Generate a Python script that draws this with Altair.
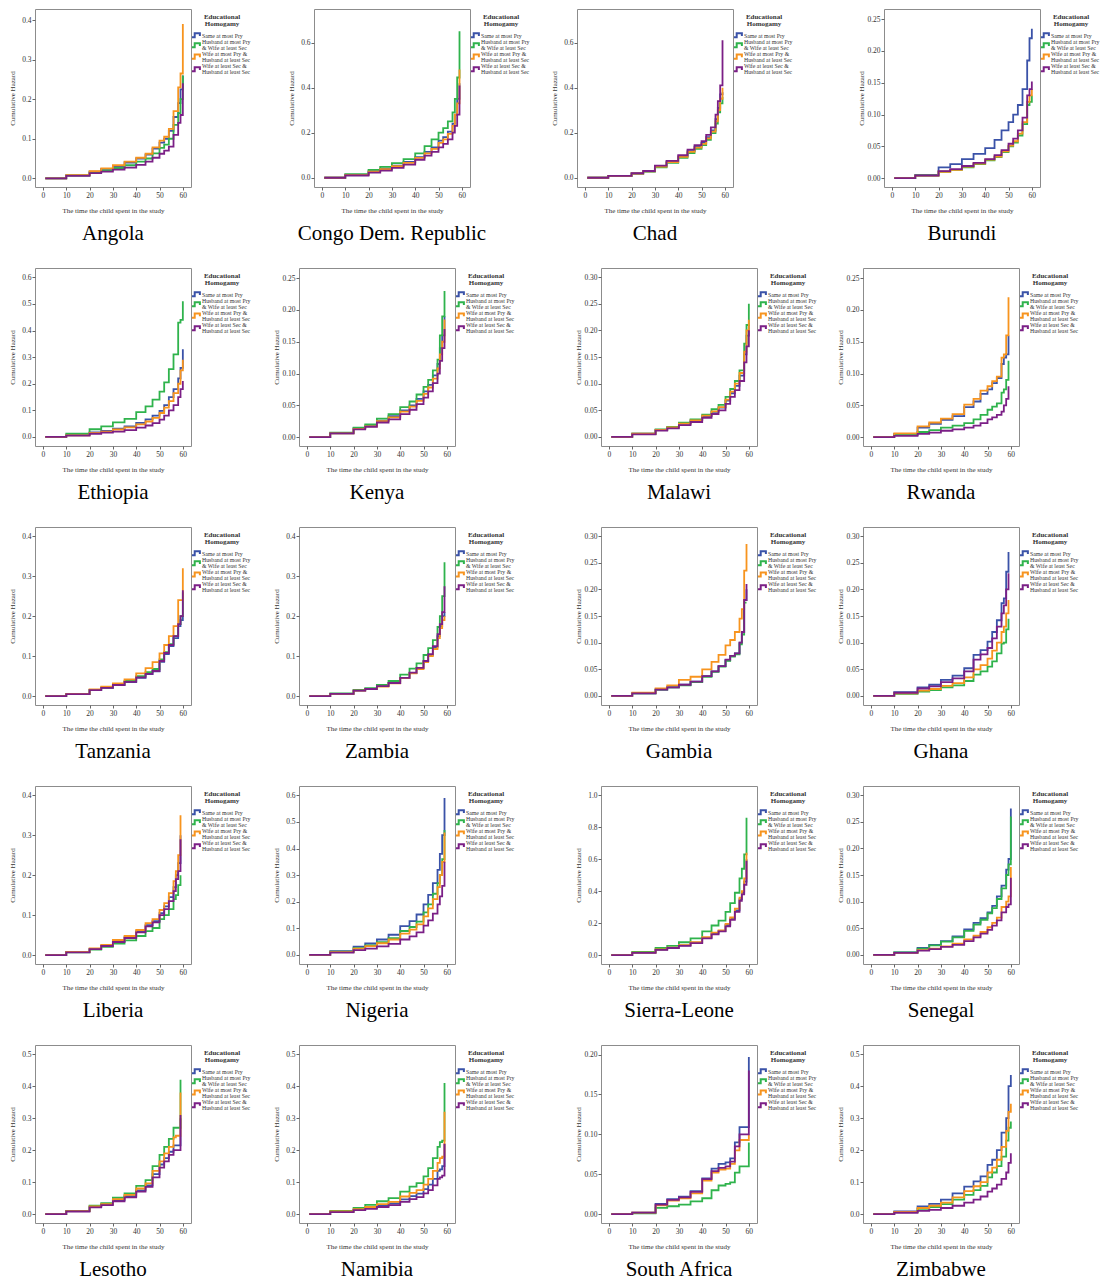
import altair as alt
import pandas as pd

SERIF = "Liberation Serif"

SERIES = [
    "Same at most Pry",
    "Husband at most Pry|& Wife at least Sec",
    "Wife at most Pry &|Husband at least Sec",
    "Wife at least Sec &|Husband at least Sec",
]
COLORS = ["#3a52a8", "#2fb34c", "#f7941e", "#7b1f86"]
LEGEND_TITLE = "Educational|Homogamy"

COUNTRIES = ["Angola", "Congo Dem. Republic", "Chad", "Burundi",
             "Ethiopia", "Kenya", "Malawi", "Rwanda",
             "Tanzania", "Zambia", "Gambia", "Ghana",
             "Liberia", "Nigeria", "Sierra-Leone", "Senegal",
             "Lesotho", "Namibia", "South Africa", "Zimbabwe"]
END_MONTH = [60, 59, 59, 60, 60, 59, 60, 59, 60, 59, 59, 59, 59, 59, 59, 60, 59, 59, 60, 60]
Y_TICK_MAX = [0.4, 0.6, 0.6, 0.25, 0.6, 0.25, 0.30, 0.25, 0.4, 0.4, 0.30, 0.30,
              0.4, 0.6, 1.0, 0.30, 0.5, 0.5, 0.20, 0.5]
Y_TICK_STEP = [0.1, 0.2, 0.2, 0.05, 0.1, 0.05, 0.05, 0.05, 0.1, 0.1, 0.05, 0.05,
               0.1, 0.1, 0.2, 0.05, 0.1, 0.1, 0.05, 0.1]
Y_TOP = [0.428, 0.749, 0.749, 0.266, 0.635, 0.266, 0.317, 0.266, 0.423, 0.423, 0.317, 0.317,
         0.423, 0.635, 1.058, 0.317, 0.529, 0.529, 0.212, 0.529]
Y_BOTTOM = [-0.022, -0.041, -0.041, -0.014, -0.034, -0.014, -0.017, -0.014, -0.022, -0.022,
            -0.017, -0.017, -0.022, -0.034, -0.056, -0.017, -0.028, -0.028, -0.011, -0.028]

# months of observation: fixed early grid, then the last three months of each country
BASE_MONTHS = [1, 10, 20, 25, 30, 35, 40, 44, 47, 50, 52, 54, 56]

# cumulative hazard per series: (Same at most Pry, Husband Pry & Wife Sec, Wife Pry & Husband Sec, both Sec)
ANGOLA = [
    [0, .008, .017, .024, .031, .04, .05, .06, .075, .09, .1, .12, .155, .19, .225, .26],
    [0, .007, .015, .02, .026, .033, .042, .05, .063, .077, .085, .1, .135, .165, .2, .26],
    [0, .008, .018, .025, .033, .042, .052, .062, .078, .095, .105, .125, .17, .23, .265, .39],
    [0, .006, .013, .017, .022, .027, .034, .042, .052, .062, .07, .08, .11, .14, .16, .24],
]
CONGO = [
    [0, .013, .029, .04, .054, .07, .092, .115, .135, .165, .18, .205, .24, .28, .35, .42],
    [0, .016, .035, .048, .065, .083, .108, .14, .17, .2, .22, .25, .29, .35, .445, .65],
    [0, .012, .027, .038, .051, .066, .088, .108, .128, .155, .17, .195, .23, .28, .33, .48],
    [0, .01, .023, .032, .044, .058, .08, .098, .115, .135, .15, .17, .2, .23, .28, .41],
]
CHAD = [
    [0, .008, .019, .029, .05, .071, .095, .118, .138, .155, .18, .21, .26, .31, .37, .38],
    [0, .008, .018, .027, .046, .066, .088, .11, .128, .145, .168, .198, .24, .29, .33, .36],
    [0, .008, .019, .028, .049, .069, .093, .115, .134, .15, .175, .205, .25, .3, .35, .40],
    [0, .008, .02, .03, .054, .075, .1, .125, .145, .163, .19, .224, .28, .34, .41, .61],
]
BURUNDI = [
    [0, .005, .017, .022, .03, .038, .047, .06, .075, .088, .1, .115, .14, .185, .22, .235],
    [0, .004, .01, .013, .017, .022, .028, .033, .041, .05, .056, .067, .085, .115, .12, .13],
    [0, .004, .01, .013, .018, .023, .029, .034, .042, .051, .058, .07, .088, .12, .13, .14],
    [0, .004, .011, .014, .019, .024, .03, .036, .044, .054, .062, .075, .095, .13, .14, .152],
]
ETHIOPIA = [
    [0, .007, .017, .023, .031, .04, .053, .066, .08, .098, .12, .15, .18, .22, .26, .33],
    [0, .012, .029, .04, .055, .068, .093, .115, .14, .17, .205, .255, .31, .43, .44, .51],
    [0, .006, .015, .02, .028, .036, .047, .058, .072, .09, .11, .135, .165, .2, .25, .29],
    [0, .005, .012, .016, .02, .026, .035, .043, .052, .065, .08, .1, .12, .15, .18, .21],
]
KENYA = [
    [0, .006, .014, .018, .026, .033, .042, .05, .06, .072, .082, .097, .115, .14, .16, .19],
    [0, .007, .015, .02, .029, .036, .047, .056, .067, .079, .09, .105, .122, .16, .19, .23],
    [0, .006, .013, .017, .025, .031, .04, .048, .057, .068, .078, .092, .108, .13, .15, .185],
    [0, .006, .012, .016, .023, .028, .036, .043, .052, .062, .072, .085, .1, .12, .14, .17],
]
MALAWI = [
    [0, .006, .013, .018, .025, .031, .039, .047, .055, .068, .082, .096, .115, .155, .19, .21],
    [0, .006, .014, .019, .027, .033, .042, .052, .06, .075, .09, .105, .125, .175, .21, .25],
    [0, .006, .013, .018, .025, .031, .04, .048, .056, .07, .085, .1, .12, .16, .2, .22],
    [0, .005, .012, .016, .022, .028, .036, .043, .05, .062, .075, .088, .105, .14, .17, .2],
]
RWANDA = [
    [0, .005, .015, .021, .027, .033, .047, .056, .068, .075, .085, .093, .115, .125, .13, .16],
    [0, .003, .008, .011, .015, .018, .022, .028, .035, .043, .048, .053, .07, .075, .09, .12],
    [0, .006, .017, .023, .029, .036, .051, .06, .073, .08, .088, .095, .125, .13, .16, .22],
    [0, .002, .005, .007, .01, .012, .015, .018, .022, .028, .031, .035, .04, .05, .06, .08],
]
TANZANIA = [
    [0, .005, .015, .021, .028, .035, .046, .055, .062, .086, .105, .125, .145, .175, .19, .2],
    [0, .005, .016, .022, .03, .038, .05, .06, .068, .092, .11, .13, .15, .18, .2, .26],
    [0, .006, .017, .024, .032, .042, .057, .07, .085, .107, .128, .15, .175, .24, .24, .32],
    [0, .005, .015, .021, .028, .036, .047, .056, .063, .088, .108, .128, .15, .18, .2, .265],
]
ZAMBIA = [
    [0, .006, .014, .018, .025, .033, .046, .058, .07, .087, .103, .122, .15, .175, .2, .21],
    [0, .007, .016, .02, .028, .038, .054, .069, .082, .103, .12, .14, .173, .2, .25, .335],
    [0, .006, .014, .018, .024, .032, .045, .057, .068, .085, .1, .118, .145, .17, .19, .2],
    [0, .006, .014, .018, .025, .033, .046, .059, .071, .088, .105, .125, .155, .18, .21, .275],
]
GAMBIA = [
    [0, .005, .012, .016, .021, .027, .037, .046, .056, .067, .075, .08, .1, .12, .18, .2],
    [0, .005, .012, .016, .02, .026, .036, .045, .055, .066, .074, .078, .097, .115, .175, .175],
    [0, .006, .014, .02, .03, .036, .05, .064, .077, .095, .105, .12, .145, .163, .235, .285],
    [0, .005, .012, .016, .021, .027, .037, .046, .056, .068, .075, .08, .1, .12, .18, .21],
]
GHANA = [
    [0, .007, .016, .021, .03, .038, .052, .077, .086, .102, .12, .142, .174, .183, .233, .27],
    [0, .004, .008, .011, .016, .02, .028, .04, .046, .055, .065, .08, .098, .1, .125, .145],
    [0, .005, .01, .013, .019, .024, .035, .05, .058, .07, .085, .1, .12, .13, .155, .18],
    [0, .006, .014, .018, .026, .033, .046, .068, .078, .09, .108, .13, .155, .17, .2, .23],
]
LIBERIA = [
    [0, .008, .016, .024, .035, .045, .06, .075, .085, .105, .122, .145, .17, .2, .23, .3],
    [0, .007, .014, .021, .029, .037, .048, .06, .068, .09, .1, .115, .14, .15, .175, .2],
    [0, .008, .017, .026, .038, .048, .063, .08, .09, .113, .13, .155, .185, .21, .25, .35],
    [0, .007, .015, .023, .033, .043, .057, .072, .082, .1, .115, .135, .16, .19, .21, .29],
]
NIGERIA = [
    [0, .014, .031, .043, .058, .076, .108, .127, .152, .19, .226, .27, .32, .38, .45, .59],
    [0, .012, .026, .036, .048, .063, .09, .105, .125, .16, .19, .23, .27, .3, .36, .47],
    [0, .011, .024, .033, .044, .058, .08, .095, .115, .145, .175, .21, .255, .3, .35, .46],
    [0, .009, .018, .024, .032, .042, .058, .07, .085, .11, .13, .155, .19, .22, .26, .35],
]
SIERRA_LEONE = [
    [0, .015, .034, .045, .06, .078, .108, .135, .15, .188, .228, .28, .35, .39, .46, .6],
    [0, .019, .044, .058, .08, .105, .148, .185, .215, .27, .325, .39, .48, .54, .63, .86],
    [0, .015, .035, .046, .062, .08, .112, .14, .155, .195, .235, .29, .36, .4, .48, .64],
    [0, .014, .033, .044, .058, .075, .105, .13, .148, .18, .22, .27, .34, .38, .44, .59],
]
SENEGAL = [
    [0, .005, .013, .019, .026, .035, .048, .06, .069, .08, .092, .11, .13, .16, .18, .275],
    [0, .005, .012, .018, .025, .033, .045, .057, .066, .078, .088, .105, .125, .15, .17, .26],
    [0, .004, .009, .012, .016, .021, .029, .036, .043, .052, .06, .07, .09, .1, .11, .165],
    [0, .004, .008, .011, .015, .019, .026, .033, .04, .047, .055, .065, .08, .09, .095, .145],
]
LESOTHO = [
    [0, .009, .023, .03, .044, .056, .074, .09, .125, .155, .175, .195, .215, .215, .215, .3],
    [0, .01, .026, .034, .051, .065, .088, .106, .15, .185, .21, .235, .27, .27, .27, .42],
    [0, .009, .024, .031, .047, .06, .08, .096, .135, .165, .19, .21, .24, .245, .245, .38],
    [0, .008, .021, .028, .04, .052, .07, .085, .115, .145, .165, .185, .2, .2, .2, .31],
]
NAMIBIA = [
    [0, .007, .013, .019, .026, .033, .046, .056, .064, .078, .092, .11, .135, .14, .15, .22],
    [0, .01, .019, .029, .04, .05, .07, .086, .097, .118, .144, .175, .21, .225, .23, .41],
    [0, .008, .015, .022, .031, .038, .055, .066, .075, .092, .11, .135, .16, .175, .18, .32],
    [0, .006, .012, .016, .022, .028, .038, .047, .053, .065, .075, .09, .11, .115, .12, .22],
]
SOUTH_AFRICA = [
    [0, .002, .013, .019, .022, .029, .045, .057, .063, .065, .07, .09, .109, .109, .109, .197],
    [0, .001, .008, .01, .012, .016, .02, .03, .036, .038, .04, .052, .06, .06, .06, .09],
    [0, .002, .011, .017, .02, .026, .042, .052, .056, .057, .063, .08, .093, .093, .093, .1],
    [0, .002, .012, .018, .021, .028, .044, .054, .058, .06, .066, .085, .1, .1, .1, .18],
]
ZIMBABWE = [
    [0, .008, .024, .032, .045, .065, .086, .102, .118, .154, .17, .2, .255, .3, .4, .435],
    [0, .006, .016, .022, .031, .045, .06, .075, .088, .115, .13, .15, .18, .23, .27, .29],
    [0, .007, .019, .026, .036, .052, .072, .087, .1, .13, .145, .17, .21, .26, .32, .345],
    [0, .004, .01, .013, .019, .026, .036, .045, .055, .07, .08, .092, .11, .13, .16, .19],
]

VALUES = [ANGOLA, CONGO, CHAD, BURUNDI, ETHIOPIA, KENYA, MALAWI, RWANDA,
          TANZANIA, ZAMBIA, GAMBIA, GHANA, LIBERIA, NIGERIA, SIERRA_LEONE, SENEGAL,
          LESOTHO, NAMIBIA, SOUTH_AFRICA, ZIMBABWE]

# ---- layout / style ----
PLOT_W = 156
PLOT_H = 178
STEP_SYMBOL = "M-1,0.45H-0.4V-0.45H0.75V0.15"
LEG_LABEL_TOP = [24.0, 30.2, 42.3, 54.3]
LEG_SYMBOL_Y = [26.3, 36.3, 47.6, 60.2]

COLOR = alt.Color("s:N", scale=alt.Scale(domain=SERIES, range=COLORS), legend=None)


def legend_layers():
    leg = pd.DataFrame({"s": SERIES, "ly": LEG_LABEL_TOP, "sy": LEG_SYMBOL_Y})
    symbols = alt.Chart(leg).mark_point(
        shape=STEP_SYMBOL, filled=False, size=81, strokeWidth=2, opacity=1
    ).encode(
        x=alt.value(PLOT_W + 5.5),
        y=alt.Y("sy:Q", scale=None, axis=None),
        color=COLOR,
    )
    labels = alt.Chart(leg).mark_text(
        align="left", baseline="top", font=SERIF, fontSize=5.8, lineHeight=6.2,
        lineBreak="|", color="#333"
    ).encode(
        x=alt.value(PLOT_W + 11),
        y=alt.Y("ly:Q", scale=None, axis=None),
        text="s:N",
    )
    title = alt.Chart(pd.DataFrame({"t": [LEGEND_TITLE]})).mark_text(
        align="center", baseline="top", font=SERIF, fontSize=7, fontWeight="bold",
        lineHeight=7.7, lineBreak="|", color="#333"
    ).encode(
        x=alt.value(PLOT_W + 31),
        y=alt.value(3.6),
        text="t:N",
    )
    return [symbols, labels, title]


def panel(i):
    end = END_MONTH[i]
    months = BASE_MONTHS + [end - 2, end - 1, end]
    rows = []
    for s, series in enumerate(SERIES):
        for m, v in zip(months, VALUES[i][s]):
            rows.append({"t": m, "h": v, "s": series})
    df = pd.DataFrame(rows)
    step = Y_TICK_STEP[i]
    n = int(round(Y_TICK_MAX[i] / step))
    ticks = [round(k * step, 3) for k in range(n + 1)]
    fmt = ".2f" if step < 0.1 else ".1f"
    lines = alt.Chart(df).mark_line(interpolate="step-after", strokeWidth=1.8).encode(
        x=alt.X("t:Q",
                scale=alt.Scale(domain=[-3.4, 63.5], nice=False, zero=False),
                axis=alt.Axis(values=[0, 10, 20, 30, 40, 50, 60], format="d",
                              title="The time the child spent in the study")),
        y=alt.Y("h:Q",
                scale=alt.Scale(domain=[Y_BOTTOM[i], Y_TOP[i]], nice=False, zero=False),
                axis=alt.Axis(values=ticks, format=fmt, title="Cumulative Hazard")),
        color=COLOR,
    )
    return alt.layer(lines, *legend_layers()).properties(
        width=PLOT_W, height=PLOT_H,
        title=alt.TitleParams(COUNTRIES[i], orient="bottom", anchor="middle",
                              font=SERIF, fontSize=21, fontWeight="normal",
                              color="black", offset=10),
    )


panels = [panel(i) for i in range(20)]


def row(p, s1, s2, s3):
    left = alt.hconcat(p[0], p[1], spacing=s1)
    right = alt.hconcat(p[2], p[3], spacing=s3)
    return alt.hconcat(left, right, spacing=s2)


rows = [row(panels[0:4], 36, 20, 64)]
for r in range(1, 5):
    rows.append(row(panels[4 * r:4 * r + 4], 21, 59, 19))

chart = alt.vconcat(*rows, spacing=22).configure(
    background="white",
    padding={"left": 0, "top": 0, "right": 0, "bottom": 0},
).configure_view(
    stroke="#8c8c8c", strokeWidth=1,
).configure_axis(
    domain=False, grid=False,
    labelFont=SERIF, labelFontSize=7.5, labelColor="#333",
    titleFont=SERIF, titleFontSize=7, titleColor="#333", titleFontWeight="normal",
    tickColor="#666", tickSize=3, labelPadding=1,
).configure_axisX(
    titlePadding=7.5,
).configure_axisY(
    minExtent=18.5, maxExtent=18.5, titlePadding=1,
)

chart.save("out.html", embed_options={"renderer": "svg", "actions": False})
